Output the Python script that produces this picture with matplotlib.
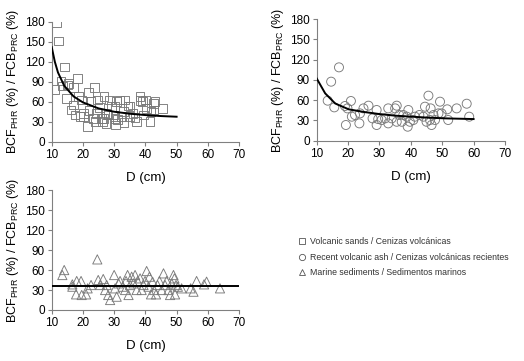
"""BCF/FCB ratio vs diameter for three soil types."""

import matplotlib
matplotlib.use("Agg")
import matplotlib.pyplot as plt
from matplotlib.lines import Line2D

plt.rcParams["font.family"] = ["Liberation Sans", "DejaVu Sans"]

# volcanic sands (squares)
sand_x = [11.6, 12.1, 14.1, 10.9, 13.0, 13.5, 14.8, 15.3, 16.2, 16.9, 18.2, 17.5, 18.6, 19.6,
          20.1, 20.1, 21.4, 21.7, 22.6, 23.3, 23.7, 24.4, 24.7, 25.3, 26.0, 26.3, 26.8, 27.4,
          27.6, 28.5, 29.2, 29.7, 30.3, 30.3, 30.5, 30.8, 31.7, 32.4, 33.2, 33.5, 34.5, 35.1,
          36.1, 36.7, 37.2, 38.3, 38.5, 39.4, 40.1, 40.4, 41.5, 41.8, 42.6, 43.1, 42.6, 45.5,
          26.5, 28.0, 31.0, 33.0, 35.0, 24.0, 39.0, 19.0, 17.0, 22.0, 15.0]
sand_y = [179, 151.5, 112.5, 78.5, 91, 83.5, 65, 87.5, 47.5, 81, 95, 40, 67.5, 62.5,
          42.5, 37.5, 22.5, 73.5, 60, 35, 81.5, 42.5, 62.5, 51.5, 35, 30, 67.5, 27.5,
          42.5, 62.5, 52.5, 40, 35, 52.5, 25, 60, 62.5, 37.5, 28.5, 62.5, 53.5, 52.5,
          42.5, 36.5, 30, 67.5, 61.5, 40, 62.5, 50, 30, 45, 57.5, 60, 47.5, 50,
          35, 40, 33, 45, 38, 30, 60, 38, 55, 47, 85]
sand_fit_x = [10, 11, 12, 14, 17, 20, 25, 30, 35, 40, 45, 50]
sand_fit_y = [142, 120, 104, 84, 68, 59, 50, 45, 42, 40, 38.5, 37.5]

# recent volcanic ash (circles)
ash_x = [17.1, 14.6, 13.5, 15.6, 19.3, 19.0, 19.8, 20.9, 21.2, 22.2, 23.6, 23.8, 24.9, 26.5,
         27.8, 29.1, 29.1, 29.6, 30.7, 31.8, 32.8, 32.8, 33.9, 35.0, 35.5, 35.5, 36.3, 37.1,
         37.6, 38.7, 39.2, 39.0, 39.7, 40.8, 41.3, 42.7, 44.0, 44.5, 45.0, 45.6, 46.1, 46.3,
         46.6, 47.2, 47.7, 48.8, 49.3, 49.8, 51.6, 51.9, 54.6, 57.8, 58.6]
ash_y = [108.5, 87.3, 59.2, 49.3, 23.2, 51.3, 47.8, 58.7, 35.5, 38, 25.6, 40.4, 47.8, 51.8,
         33, 45.4, 23.2, 32, 30.6, 33, 47.8, 25.6, 33, 47.8, 51.8, 28, 38, 28,
         38, 35.5, 45.4, 20.7, 28, 30.6, 35.5, 38, 35.5, 50.3, 28, 66.6, 30.6, 47.8,
         23.2, 38, 30.6, 40.4, 57.7, 40.4, 46.4, 30.6, 47.8, 54.7, 35.5]
ash_fit_x = [10, 12.7, 15.9, 20.2, 25, 29.8, 35, 40.4, 45, 51, 60]
ash_fit_y = [92, 70, 55, 46.4, 42.5, 39.5, 37, 35.5, 34.2, 33, 32]

# marine sediments (triangles)
marine_x = [13.4, 14.0, 16.6, 16.6, 17.8, 18.0, 19.4, 19.6, 21.0, 21.5, 22.6, 24.6, 24.9, 25.5,
            26.5, 27.1, 27.6, 28.1, 28.7, 30.0, 30.3, 30.8, 31.4, 31.9, 32.7, 33.5, 33.8, 34.3,
            34.6, 35.1, 35.6, 36.2, 36.7, 37.2, 37.5, 38.3, 38.8, 39.4, 39.9, 40.4, 41.0, 41.3,
            41.8, 42.3, 42.8, 43.4, 43.9, 44.5, 45.2, 45.8, 46.3, 46.8, 47.4, 47.9, 48.4, 49.0,
            49.3, 49.5, 49.8, 50.4, 51.6, 54.5, 55.4, 56.4, 58.8, 59.6, 63.9]
marine_y = [52.5, 60, 38.5, 35, 23.5, 43.5, 43.5, 22.5, 23.5, 32.5, 37.5, 76, 45, 37.5,
            46.5, 30, 37.5, 22.5, 15, 52.5, 32.5, 20, 40, 43.5, 35, 30, 43.5, 52.5,
            22.5, 37.5, 50, 40, 52.5, 30, 43.5, 47.5, 30, 37.5, 43.5, 58.5, 35, 50,
            23.5, 42.5, 30, 23.5, 37.5, 43.5, 30, 55, 37.5, 43.5, 30, 22.5, 40, 52.5,
            47.5, 23.5, 37.5, 35, 32.5, 32.5, 27.5, 43.5, 38.5, 42.5, 32.5]
marine_fit_x = [10, 70]
marine_fit_y = [36.5, 36.5]

legend_labels = ["Volcanic sands / Cenizas volcánicas",
                 "Recent volcanic ash / Cenizas volcánicas recientes",
                 "Marine sediments / Sedimentos marinos"]

ylabel = r"BCF$_{\mathregular{PHR}}$ (%) / FCB$_{\mathregular{PRC}}$ (%)"
edge = "#7a7a7a"

fig = plt.figure(figsize=(5.24, 3.61), dpi=100)
ax1 = fig.add_axes([0.0987, 0.6075, 0.3575, 0.332])
ax2 = fig.add_axes([0.6044, 0.6103, 0.3593, 0.337])
ax3 = fig.add_axes([0.0987, 0.1413, 0.3575, 0.332])

panels = [
    (ax1, sand_x, sand_y, "s", 38, sand_fit_x, sand_fit_y),
    (ax2, ash_x, ash_y, "o", 42, ash_fit_x, ash_fit_y),
    (ax3, marine_x, marine_y, "^", 44, marine_fit_x, marine_fit_y),
]
for ax, x, y, mk, size, fx, fy in panels:
    ax.scatter(x, y, marker=mk, s=size, facecolors="none", edgecolors=edge, linewidths=0.65, zorder=2)
    ax.plot(fx, fy, color="black", linewidth=1.4, zorder=3)
    ax.set_xlim(10, 70)
    ax.set_ylim(0, 180)
    ax.set_xticks(range(10, 71, 10))
    ax.set_yticks(range(0, 181, 30))
    for side in ("top", "right"):
        ax.spines[side].set_visible(False)
    for side in ("left", "bottom"):
        ax.spines[side].set_color("#808080")
        ax.spines[side].set_linewidth(0.8)
    ax.tick_params(labelsize=8.5, length=3, width=0.8, color="#808080", pad=2)
    ax.set_xlabel("D (cm)", fontsize=9.5, labelpad=8)
    ax.set_ylabel(ylabel, fontsize=9, labelpad=3)

handles = [Line2D([], [], linestyle="none", marker=m, markersize=4.5, markerfacecolor="none",
                  markeredgecolor="#555555", markeredgewidth=0.6) for m in ("s", "o", "^")]
fig.legend(handles, legend_labels, loc="upper left", bbox_to_anchor=(0.563, 0.355),
           frameon=False, fontsize=6.3, handlelength=0.7, handletextpad=0.5,
           labelspacing=0.75, borderpad=0, labelcolor="#333333")

fig.savefig("out.png", dpi=100)
